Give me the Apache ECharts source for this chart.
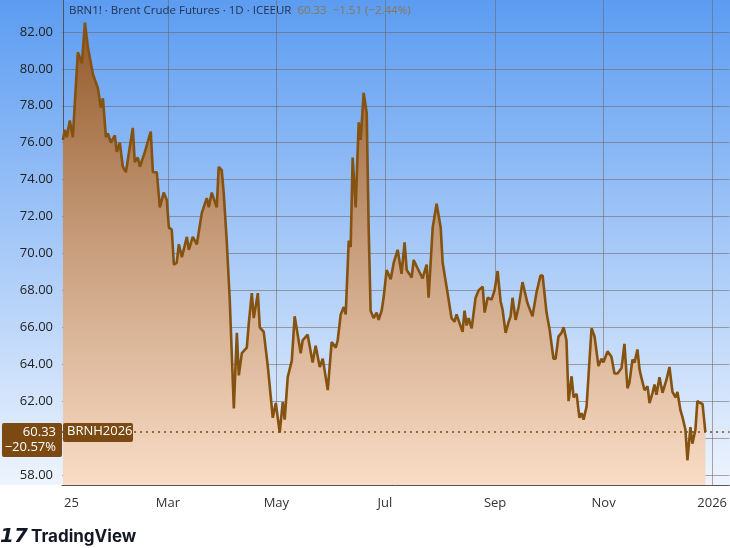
<!DOCTYPE html>
<html>
<head>
<meta charset="utf-8">
<script src="https://cdn.jsdelivr.net/npm/echarts@6/dist/echarts.min.js"></script>
<style>html,body{margin:0;padding:0;background:#fff}#main{width:730px;height:548px}</style>
</head>
<body>
<div id="main"></div>
<script>
// day offset from 2025-01-01, close price
var days = [0,1.1,2.2,3.9,5.6,8.4,10.7,12.4,14.0,16.9,19.7,21.3,22.5,24.2,25.3,27.0,29.2,30.3,32.0,33.7,35.4,36.5,39.3,40.4,42.1,43.3,46.1,49.4,50.6,52.8,54.5,55.6,56.7,58.4,59.6,61.2,62.4,64.0,65.2,66.9,69.7,70.8,73.0,75.3,78.1,79.2,80.9,82.0,83.7,84.8,86.5,87.6,89.3,90.4,92.1,93.8,96.1,97.8,98.9,100.6,103.4,104.5,106.2,107.3,109.6,110.7,112.9,115.2,118.0,119.7,121.9,123.6,124.7,126.4,128.7,130.3,133.7,134.8,137.6,140.4,142.1,144.4,146.1,148.9,151.1,153.4,154.5,156.2,157.9,159.0,160.7,161.8,162.9,164.6,166.3,167.4,169.1,170.8,171.9,173.0,174.7,176.4,177.5,179.2,180.3,182.0,184.3,186.0,188.2,190.4,192.1,193.3,196.1,197.2,199.4,202.2,204.5,205.6,207.9,210.1,212.4,213.5,215.7,218.5,220.2,221.3,224.7,225.8,227.0,228.1,229.8,232.0,233.7,236.0,237.1,238.8,241.0,242.7,244.4,246.1,247.2,248.9,250.6,251.7,252.8,254.5,256.2,258.4,260.1,261.2,264.0,266.3,268.5,269.7,271.9,273.6,275.8,277.0,278.6,280.3,281.5,283.1,284.3,286.0,287.1,288.8,290.4,291.6,292.7,294.4,297.2,298.9,301.1,302.8,303.9,306.2,307.3,308.4,310.1,311.8,314.1,315.7,317.4,318.5,320.2,321.4,323.0,324.2,325.3,327.0,328.7,329.8,331.5,332.6,333.7,335.4,337.1,339.3,341.0,342.7,344.4,345.5,347.2,348.3,350.0,351.1,352.8,353.9,355.6,356.7,358.4,359.6,361.2];
var prices = [76.15,76.7,76.3,77.2,76.3,80.9,80.3,82.5,81.2,79.7,78.95,77.9,78.4,76.3,76.5,76.0,76.4,75.5,76.0,74.7,74.4,74.5,76.8,74.95,75.2,74.7,75.5,76.6,74.4,74.4,72.5,72.4,73.3,72.9,71.4,71.3,69.4,69.5,70.5,69.8,70.9,70.2,70.9,70.5,72.2,72.25,73.0,72.5,73.3,73.3,72.5,74.7,74.5,73.3,70.7,67.5,61.6,65.7,63.4,64.6,64.9,66.2,67.85,66.5,67.85,66.0,65.75,63.9,61.1,61.9,60.3,61.95,61.0,63.3,64.2,66.6,64.6,65.3,65.6,64.1,65.0,63.85,64.3,62.6,65.2,64.9,65.3,66.7,67.1,66.7,70.7,70.35,75.2,72.5,77.1,76.15,78.7,77.6,71.4,66.9,66.5,66.8,66.4,66.9,67.6,69.1,68.6,69.5,70.2,68.9,70.6,69.1,68.7,69.65,69.2,68.65,69.4,67.6,71.4,72.7,71.4,69.5,68.2,66.5,66.3,66.7,65.75,66.9,66.1,66.5,65.95,67.6,68.0,68.2,66.8,67.6,67.5,68.0,69.05,67.4,66.95,65.7,66.3,66.6,67.6,66.4,67.1,68.45,67.75,67.3,66.6,67.9,68.8,68.8,66.8,65.9,64.3,64.3,65.5,65.7,66.0,65.3,62.0,63.35,62.2,62.4,61.1,61.35,61.0,61.7,65.95,65.5,63.9,64.3,64.1,64.7,64.8,64.4,63.5,63.5,63.8,65.1,62.7,63.0,64.25,64.1,64.8,63.7,63.25,62.6,62.8,61.9,62.45,62.9,62.35,63.3,62.45,63.15,63.85,62.5,62.2,62.5,61.5,61.15,60.45,58.8,60.6,59.7,60.45,62.0,61.9,61.85,60.33];
var yTicks = [58,60,62,64,66,68,70,72,74,76,78,80,82];
var xTicks = [0,59,120,181,243,304,365];
var xTickLabels = ['25','Mar','May','Jul','Sep','Nov','2026'];
var lastPrice = 60.33;

var data = days.map(function (d, i) { return [d, prices[i]]; });
var chart = echarts.init(document.getElementById('main'));
var gridCol = 'rgba(110,100,95,0.55)';
var font = 'Open Sans';
chart.setOption({
    animation: false,
    grid: {left: 62, right: 0, top: 0, bottom: 63},
    xAxis: {
        type: 'value', min: -0.5, max: 374.7,
        axisLine: {show: true, onZero: false, lineStyle: {color: '#555', width: 1}},
        axisTick: {show: false, customValues: xTicks},
        splitLine: {show: true, lineStyle: {color: gridCol}},
        axisLabel: {
            customValues: xTicks, color: '#333', fontSize: 13, margin: 12,
            fontFamily: font,
            formatter: function (v) {
                var s = xTickLabels[xTicks.indexOf(v)];
                return v === 0 ? '{first|' + s + '}' : s;
            },
            align: 'center',
            rich: {first: {padding: [0, 0, 0, 17], color: '#333', fontSize: 13, fontFamily: font}}
        }
    },
    yAxis: {
        type: 'value', min: 57.46, max: 83.73,
        axisLine: {show: true, lineStyle: {color: '#555', width: 1}},
        axisTick: {show: false, customValues: yTicks},
        splitLine: {show: true, lineStyle: {color: gridCol}},
        axisLabel: {
            customValues: yTicks, color: '#222', fontSize: 13, margin: 9,
            fontFamily: font,
            formatter: function (v) { return v.toFixed(2); }
        }
    },
    series: [{
        type: 'line', data: data, symbol: 'none',
        lineStyle: {color: '#85520f', width: 2.6},
        areaStyle: {color: new echarts.graphic.LinearGradient(0, 0, 0, 1, [
            {offset: 0, color: '#93592a'},
            {offset: 0.5, color: '#c9a07f'},
            {offset: 1, color: '#f9dcc6'}]), origin: 'start', opacity: 1},
        markLine: {
            silent: true, symbol: 'none', label: {show: false},
            lineStyle: {color: '#7a4a10', type: [2, 4], width: 1.5},
            data: [{yAxis: lastPrice}]
        }
    }]
});

var py = chart.convertToPixel({yAxisIndex: 0}, lastPrice);
chart.setOption({
    graphic: [{
        type: 'rect', z: -10, silent: true,
        shape: {x: 0, y: 0, width: 730, height: 485},
        style: {fill: new echarts.graphic.LinearGradient(0, 0, 0, 1, [
            {offset: 0, color: '#5c9cf1'}, {offset: 1, color: '#eef4fd'}])}
    }, {
        type: 'rect', z: 100, shape: {x: 2, y: py - 9, width: 60, height: 34, r: 2},
        style: {fill: '#7b4a12'}
    }, {
        type: 'text', z: 101, style: {text: '60.33\n−20.57%', x: 56, y: py - 7, align: 'right',
            fill: '#fff', fontSize: 13, lineHeight: 15, fontFamily: font}
    }, {
        type: 'rect', z: 100, shape: {x: 63, y: py - 9, width: 70, height: 19, r: 2},
        style: {fill: '#7b4a12'}
    }, {
        type: 'text', z: 101, style: {text: 'BRNH2026', x: 67, y: py - 7,
            fill: '#fff', fontSize: 13, fontFamily: font}
    }, {
        type: 'text', z: 101, style: {rich: {
                a: {fill: '#22344f', fontSize: 11.5, fontFamily: font},
                b: {fill: '#8a7658', fontSize: 11.5, fontFamily: font}},
            text: '{a|BRN1! · Brent Crude Futures · 1D · ICEEUR}{b|  60.33  −1.51 (−2.44%)}', x: 69, y: 5}
    }, {
        type: 'text', style: {text: '17', x: 0, y: 527, fill: '#131722', fontSize: 20,
            fontWeight: 900, fontStyle: 'italic', fontFamily: 'DejaVu Sans'}
    }, {
        type: 'text', style: {text: 'TradingView', x: 31, y: 528, fill: '#131722', fontSize: 17,
            fontWeight: 'bold', fontFamily: 'Inter'}
    }]
});
</script>
</body>
</html>
